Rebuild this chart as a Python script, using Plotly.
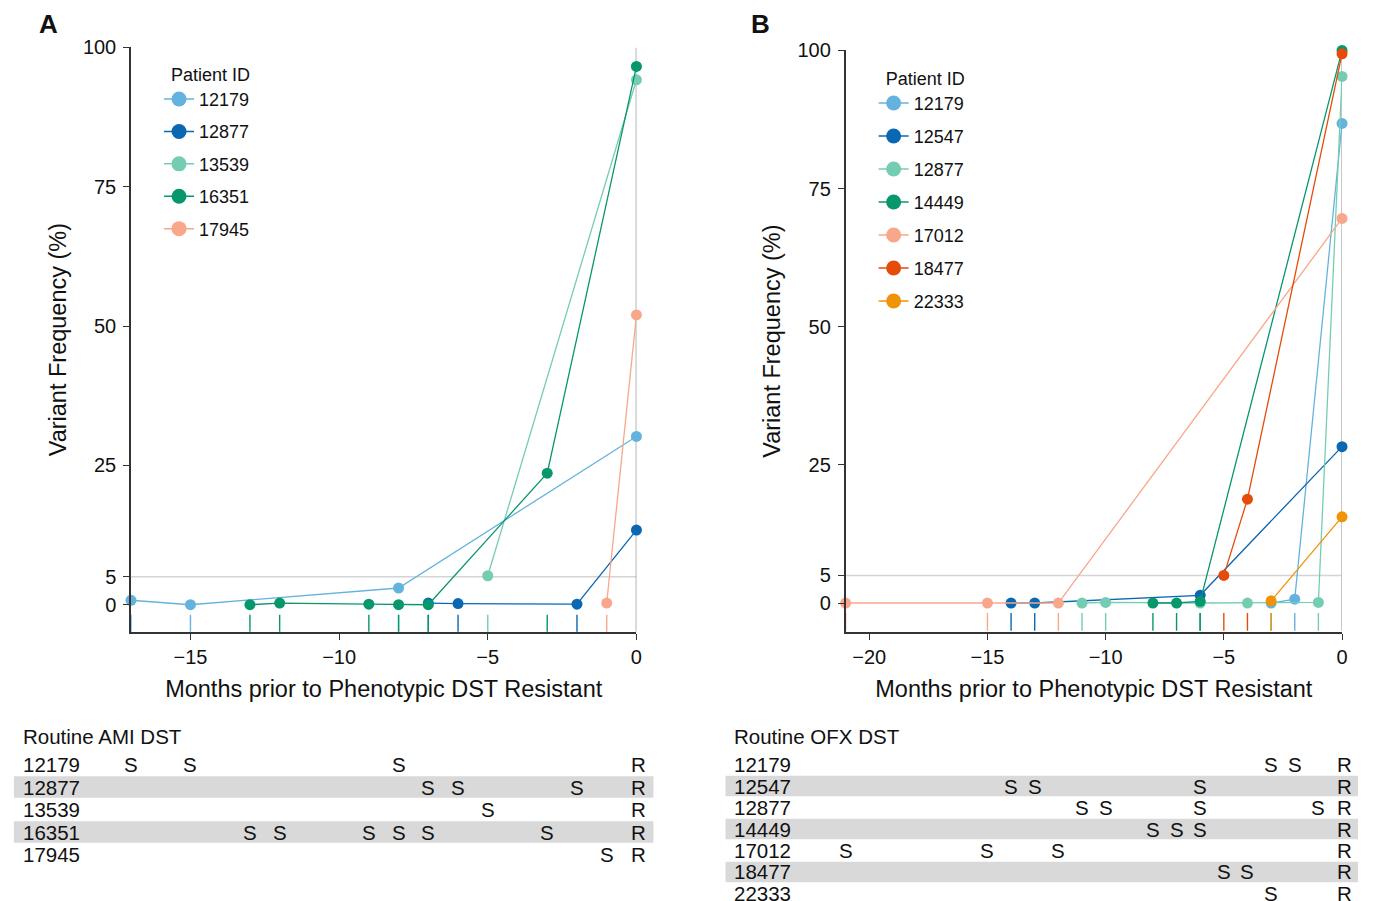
import plotly.graph_objects as go

FONT = "Liberation Sans, Arial, Helvetica, sans-serif"

# ---------------- Panel A data (AMI) ----------------
ids_a = ["12179", "12877", "13539", "16351", "17945"]
colors_a = ["#63B3DE", "#0A67B2", "#74CDB3", "#07976C", "#F8A78A"]
months_a = {
    "12179": [-17, -15, -8, 0],
    "12877": [-7, -6, -2, 0],
    "13539": [-5, 0],
    "16351": [-13, -12, -9, -8, -7, -3, 0],
    "17945": [-1, 0],
}
freq_a = {
    "12179": [0.8, 0.0, 3.0, 30.2],
    "12877": [0.3, 0.2, 0.1, 13.4],
    "13539": [5.2, 94.2],
    "16351": [0.0, 0.3, 0.1, 0.0, 0.0, 23.6, 96.6],
    "17945": [0.3, 52.0],
}
dst_s_a = {
    "12179": [-17, -15, -8],
    "12877": [-7, -6, -2],
    "13539": [-5],
    "16351": [-13, -12, -9, -8, -7, -3],
    "17945": [-1],
}
dst_r_a = 0

# ---------------- Panel B data (OFX) ----------------
ids_b = ["12179", "12547", "12877", "14449", "17012", "18477", "22333"]
colors_b = ["#63B3DE", "#0A67B2", "#74CDB3", "#07976C", "#F8A78A", "#E54B0B", "#F09306"]
months_b = {
    "12179": [-3, -2, 0],
    "12547": [-14, -13, -6, 0],
    "12877": [-11, -10, -6, -4, -1, 0],
    "14449": [-8, -7, -6, 0],
    "17012": [-21, -15, -12, 0],
    "18477": [-5, -4, 0],
    "22333": [-3, 0],
}
freq_b = {
    "12179": [0.0, 0.7, 86.8],
    "12547": [0.0, 0.0, 1.4, 28.3],
    "12877": [0.0, 0.1, 0.0, 0.0, 0.1, 95.3],
    "14449": [0.0, 0.0, 0.3, 100.0],
    "17012": [0.0, 0.0, 0.0, 69.6],
    "18477": [5.0, 18.8, 99.4],
    "22333": [0.4, 15.6],
}
dst_s_b = {
    "12179": [-3, -2],
    "12547": [-14, -13, -6],
    "12877": [-11, -10, -6, -1],
    "14449": [-8, -7, -6],
    "17012": [-21, -15, -12],
    "18477": [-5, -4],
    "22333": [-3],
}
dst_r_b = 0

ytick_vals = [0, 5, 25, 50, 75, 100]
xtick_a = [-15, -10, -5, 0]
xtick_b = [-20, -15, -10, -5, 0]
threshold = 5

W, H = 1376, 901


def px_x(p):
    return ((p - 8.1) / 0.9948) / W


def px_y(p):
    return 1 - ((p - 18.5) / 0.989) / H


fig = go.Figure()


def add_panel(ids, colors, months, freq, dst_s, xa, ya, legend):
    # rug ticks at the routine DST (susceptible) dates
    for pid, col in zip(ids, colors):
        xs, ys = [], []
        for m in dst_s[pid]:
            xs += [m, m, None]
            ys += [-1.8, -5, None]
        fig.add_trace(go.Scatter(x=xs, y=ys, mode="lines", xaxis=xa, yaxis=ya,
                                 line=dict(color=col, width=1.4), showlegend=False,
                                 hoverinfo="skip", cliponaxis=False))
    for pid, col in zip(ids, colors):
        fig.add_trace(go.Scatter(x=months[pid], y=freq[pid], mode="lines+markers",
                                 xaxis=xa, yaxis=ya, name=pid, legend=legend,
                                 line=dict(color=col, width=1.3),
                                 marker=dict(color=col, size=11),
                                 showlegend=False, cliponaxis=False))
    # legend-only entries
    for pid, col in zip(ids, colors):
        fig.add_trace(go.Scatter(x=[None], y=[None], mode="lines+markers",
                                 xaxis=xa, yaxis=ya, name=pid, legend=legend,
                                 legendgroup=legend + pid,
                                 line=dict(color=col, width=1.5),
                                 marker=dict(color=col, size=15)))


add_panel(ids_a, colors_a, months_a, freq_a, dst_s_a, "x", "y", "legend")
add_panel(ids_b, colors_b, months_b, freq_b, dst_s_b, "x2", "y2", "legend2")

axis_common = dict(showgrid=False, zeroline=False, showline=True, linecolor="#333333",
                   linewidth=1.5, ticks="outside", ticklen=6, tickwidth=1.3,
                   tickcolor="#333333", tickfont=dict(family=FONT, size=20, color="#111111"))

title_font = dict(family=FONT, size=23.5, color="#111111")

fig.update_layout(
    width=W, height=H,
    margin=dict(l=0, r=0, t=0, b=0),
    paper_bgcolor="white", plot_bgcolor="white",
    font=dict(family=FONT, color="#111111"),
    xaxis=dict(axis_common, domain=[px_x(131), px_x(636)], range=[-17, 0],
               tickvals=xtick_a, anchor="y",
               title=dict(text="Months prior to Phenotypic DST Resistant",
                          font=title_font, standoff=14)),
    yaxis=dict(axis_common, domain=[px_y(632), px_y(47)], range=[-4.85, 100],
               tickvals=ytick_vals, anchor="x", ticklabelstandoff=3,
               title=dict(text="Variant Frequency (%)", font=title_font, standoff=10)),
    xaxis2=dict(axis_common, domain=[px_x(845), px_x(1341)], range=[-21, 0],
                tickvals=xtick_b, anchor="y2",
                title=dict(text="Months prior to Phenotypic DST Resistant",
                           font=title_font, standoff=14)),
    yaxis2=dict(axis_common, domain=[px_y(632), px_y(50)], range=[-5.2, 100],
                tickvals=ytick_vals, anchor="x2", ticklabelstandoff=3,
                title=dict(text="Variant Frequency (%)", font=title_font, standoff=10)),
    legend=dict(x=px_x(159), y=px_y(57), xanchor="left", yanchor="top",
                title=dict(text="\u00a0\u00a0Patient ID", font=dict(family=FONT, size=18)),
                font=dict(family=FONT, size=18), traceorder="grouped",
                tracegroupgap=6, bgcolor="rgba(0,0,0,0)"),
    legend2=dict(x=px_x(873), y=px_y(61), xanchor="left", yanchor="top",
                 title=dict(text="\u00a0\u00a0Patient ID", font=dict(family=FONT, size=18)),
                 font=dict(family=FONT, size=18), traceorder="grouped",
                 tracegroupgap=6.6, bgcolor="rgba(0,0,0,0)"),
)

shapes = []
# reference lines
for xa, ya, xmin, vcol in [("x", "y", -17, "#A4A4A4"), ("x2", "y2", -21, "#B8B8B8")]:
    shapes.append(dict(type="line", xref=xa, yref=ya, x0=xmin, x1=0, y0=threshold, y1=threshold,
                       line=dict(color="#D4D4D4", width=1.5), layer="below"))
    shapes.append(dict(type="line", xref=xa, yref=ya, x0=0, x1=0, y0=-5, y1=100,
                       line=dict(color=vcol, width=1.6), layer="below"))

annotations = []
annotations.append(dict(text="<b>A</b>", x=px_x(37), y=px_y(24), xref="paper", yref="paper",
                        xanchor="left", yanchor="middle", showarrow=False,
                        font=dict(family=FONT, size=26, color="#111111")))
annotations.append(dict(text="<b>B</b>", x=px_x(748), y=px_y(24), xref="paper", yref="paper",
                        xanchor="left", yanchor="middle", showarrow=False,
                        font=dict(family=FONT, size=26, color="#111111")))


def add_table(title, ids, dst_s, dst_r, xa, left_px, band_l, band_r, row0, step):
    annotations.append(dict(text=title, x=px_x(left_px), y=px_y(737), xref="paper", yref="paper",
                            xanchor="left", yanchor="middle", showarrow=False,
                            font=dict(family=FONT, size=20.5, color="#111111")))
    for i, pid in enumerate(ids):
        yc = row0 + i * step
        if i % 2 == 1:
            shapes.append(dict(type="rect", xref="paper", yref="paper",
                               x0=px_x(band_l), x1=px_x(band_r),
                               y0=px_y(yc - step / 2 + 0.5), y1=px_y(yc + step / 2 - 0.5),
                               fillcolor="#D9D9D9", line=dict(width=0), layer="below"))
        annotations.append(dict(text=pid, x=px_x(left_px), y=px_y(yc), xref="paper", yref="paper",
                                xanchor="left", yanchor="middle", showarrow=False,
                                font=dict(family=FONT, size=20.5, color="#111111")))
        for m in dst_s[pid]:
            annotations.append(dict(text="S", x=m, y=px_y(yc), xref=xa, yref="paper",
                                    xanchor="center", yanchor="middle", showarrow=False,
                                    font=dict(family=FONT, size=20.5, color="#111111")))
        annotations.append(dict(text="R", x=dst_r, y=px_y(yc), xref=xa, yref="paper",
                                xanchor="center", yanchor="middle", showarrow=False, xshift=2,
                                font=dict(family=FONT, size=20.5, color="#111111")))


add_table("Routine AMI DST", ids_a, dst_s_a, dst_r_a, "x", 21, 14, 653, 765, 22.5)
add_table("Routine OFX DST", ids_b, dst_s_b, dst_r_b, "x2", 731, 725, 1357, 765, 21.5)

fig.update_layout(shapes=shapes, annotations=annotations)
fig.write_html("out.html")
